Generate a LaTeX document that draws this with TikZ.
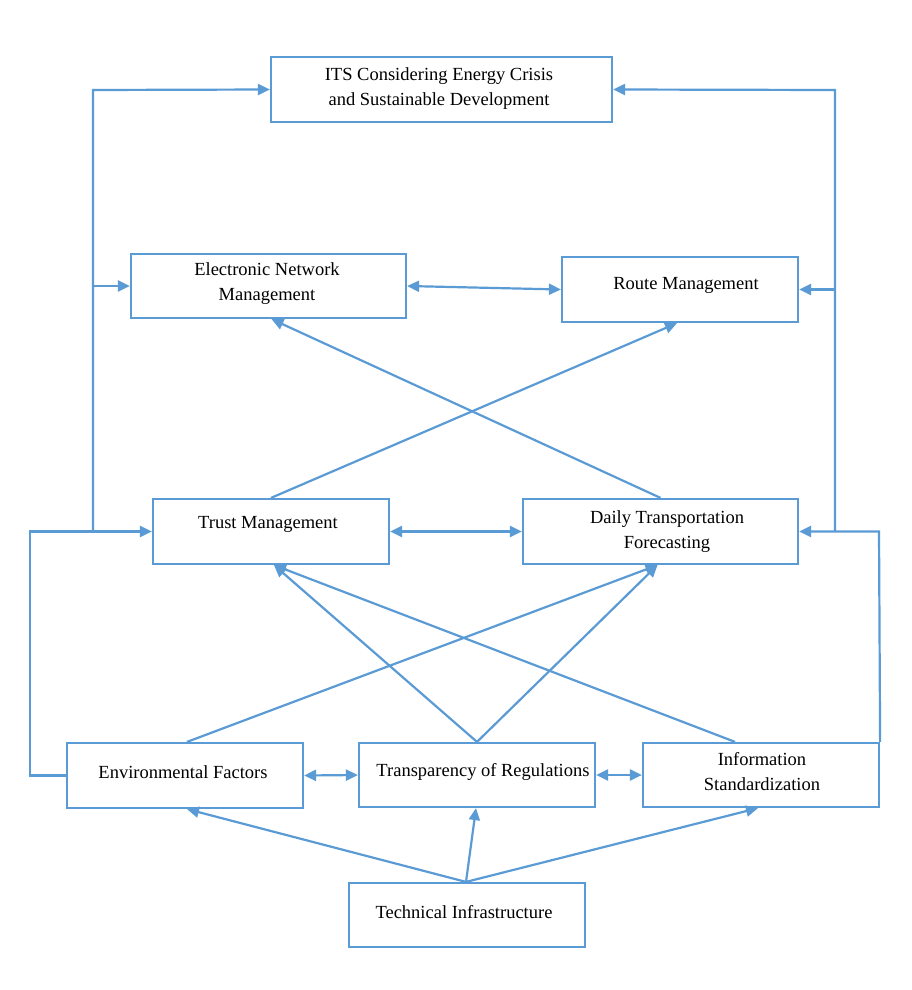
\documentclass[tikz,border=0pt]{standalone}
\usepackage{fontspec}
\setmainfont{Liberation Serif}
\usetikzlibrary{arrows.meta}
\definecolor{lb}{HTML}{5B9BD5}
\begin{document}
\begin{tikzpicture}[x=1pt,y=-1pt,
  box/.style={draw=lb,line width=2.2pt,rectangle,inner sep=0pt},
  txt/.style={align=center,inner sep=0pt,font=\fontsize{18.5}{25}\selectfont},
  conn/.style={draw=lb,line width=2.2pt},
  arr/.style={conn,-{Triangle[length=12pt,width=11pt]}},
  darr/.style={conn,{Triangle[length=12pt,width=11pt]}-{Triangle[length=12pt,width=11pt]}}]
\useasboundingbox[fill=white] (0,0) rectangle (911,990);
% boxes
\node[box,minimum width=341pt,minimum height=65pt] (its) at (441.5,89.5) {};
\node[box,minimum width=275pt,minimum height=64pt] (enm) at (268.5,286) {};
\node[box,minimum width=236pt,minimum height=65pt] (route) at (680,289.5) {};
\node[box,minimum width=236pt,minimum height=65pt] (trust) at (271,531.5) {};
\node[box,minimum width=275pt,minimum height=65pt] (daily) at (660.5,531.5) {};
\node[box,minimum width=236pt,minimum height=65pt] (env) at (185,775.5) {};
\node[box,minimum width=236pt,minimum height=64pt] (transp) at (477,775) {};
\node[box,minimum width=236pt,minimum height=64pt] (info) at (761,775) {};
\node[box,minimum width=236pt,minimum height=64pt] (tech) at (467,915) {};
% texts
\node[txt] (itsT) at (439,89) {ITS Considering Energy Crisis\\and Sustainable Development};
\node[txt] (enmT) at (267,284) {Electronic Network\\Management};
\node[txt] (routeT) at (686,285) {Route Management};
\node[txt] (trustT) at (268,524) {Trust Management};
\node[txt] (dailyT) at (667,532) {Daily Transportation\\Forecasting};
\node[txt] (envT) at (183,772) {Environmental Factors};
\node[txt] (transpT) at (483,772) {Transparency of Regulations};
\node[txt] (infoT) at (762,772) {Information\\Standardization};
\node[txt] (techT) at (464,912) {Technical Infrastructure};
% bus coordinates
\coordinate (lbus) at (93,531);
\coordinate (lbtop) at (93,90);
\coordinate (lbmid) at (93,286);
\coordinate (lenv) at (30,775.5);
\coordinate (lcorner) at (30,531.5);
\coordinate (rbus) at (835,531.5);
\coordinate (rbtop) at (835,90);
\coordinate (rbmid) at (835,289.5);
\coordinate (rcorner) at (879,531.5);
% left side
\draw[arr] (lbus) -- (lbtop) -- (its.west);
\draw[arr] (lbmid) -- (enm.west);
\draw[arr] (env.west) -- (lenv) -- (lcorner) -- (trust.west);
% right side
\draw[arr] (rbus) -- (rbtop) -- (its.east);
\draw[arr] (rbmid) -- (route.east);
\draw[arr] (info.north east) -- (rcorner) -- (daily.east);
% horizontal double arrows
\draw[darr] (enm.east) -- (route.west);
\draw[darr] (trust.east) -- (daily.west);
\draw[darr] (env.east) -- (transp.west);
\draw[darr] (transp.east) -- (info.west);
% diagonals
\draw[arr] (trust.north) -- ([xshift=-3pt]route.south);
\draw[arr] (daily.north) -- ([xshift=3pt]enm.south);
\draw[arr] ([xshift=2pt]env.north) -- ([xshift=-3pt]daily.south);
\draw[arr] (transp.north) -- ([xshift=3pt]trust.south);
\draw[arr] (transp.north) -- ([xshift=-3pt]daily.south);
\draw[arr] ([xshift=-26pt]info.north) -- ([xshift=3pt]trust.south);
\draw[arr] ([xshift=-1pt]tech.north) -- ([xshift=2pt]env.south);
\draw[arr] ([xshift=-1pt]tech.north) -- ([xshift=-1pt]transp.south);
\draw[arr] ([xshift=-1pt]tech.north) -- ([xshift=-3pt]info.south);
\end{tikzpicture}
\end{document}
